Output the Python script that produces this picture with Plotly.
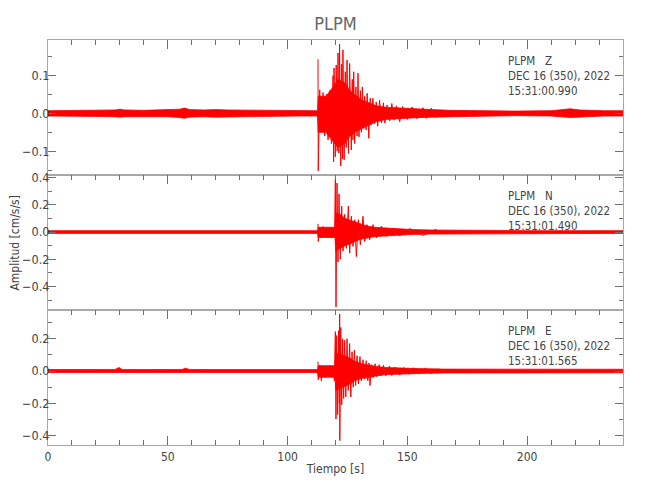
import plotly.graph_objects as go
from plotly.subplots import make_subplots

# ---------------- data ----------------
time_range = [0, 240]
channels = ["Z", "N", "E"]
start_times = ["15:31:00.990", "15:31:01.490", "15:31:01.565"]
station = "PLPM"
date_label = "DEC 16 (350), 2022"

# Z : dense core envelope (upper / lower) and individual peaks
Z_core_t = [0, 10, 20, 28, 30, 32, 40, 50, 55, 57, 59, 65, 70, 75, 85, 95, 105, 112.5, 112.8, 116,
            119, 121, 124, 126, 128, 131, 134, 137, 141, 146, 152, 160, 168, 180, 195, 210, 214, 218, 222, 226,
            232, 240]
Z_core_hi = [0.007, 0.007, 0.008, 0.009, 0.011, 0.009, 0.008, 0.009, 0.011, 0.014,
             0.010, 0.009, 0.010, 0.009, 0.008, 0.008, 0.007, 0.007, 0.045, 0.045,
             0.07, 0.09, 0.08, 0.06, 0.05, 0.035, 0.028, 0.02, 0.016, 0.014,
             0.012, 0.010, 0.008, 0.007, 0.006, 0.007, 0.009, 0.012, 0.009, 0.008,
             0.007, 0.007]
Z_core_lo = [-0.007, -0.008, -0.008, -0.009, -0.010, -0.009, -0.008, -0.009, -0.011, -0.013,
             -0.010, -0.009, -0.010, -0.009, -0.008, -0.008, -0.007, -0.007, -0.05, -0.05,
             -0.075, -0.09, -0.08, -0.06, -0.05, -0.04, -0.03, -0.022, -0.016, -0.014,
             -0.012, -0.010, -0.008, -0.007, -0.006, -0.007, -0.009, -0.011, -0.009, -0.008,
             -0.007, -0.007]
Z_peak_t = [112.7, 112.8, 113.4, 114.1, 114.8, 115.5, 116.2, 116.9, 117.6, 118.3,
            119.0, 119.2, 119.4, 119.9, 120.3, 120.7, 121.05, 121.4, 121.7, 122.2,
            122.6, 122.9, 123.1, 123.6, 124.1, 124.5, 124.8, 125.4, 125.9, 126.6,
            127.0, 127.3, 127.6, 128.0, 128.5, 129.0, 129.4, 129.8, 130.4, 130.8,
            131.2, 131.8, 132.2, 132.8, 133.2, 133.9, 134.5, 135.0, 135.6, 136.3,
            137.0, 137.6, 138.4, 139.2, 140.0, 140.6, 141.5, 142.6, 143.5, 144.5,
            145.4, 146.8, 148.0, 150.0, 152.0, 154.0, 156.5, 158.0, 160.0, 162.0]
Z_peak_v = [0.143, -0.152, 0.062, -0.05, 0.055, -0.06, 0.05, -0.07, 0.06, -0.08,
            0.10, -0.128, 0.12, -0.115, 0.128, -0.10, 0.16, -0.105, 0.183, -0.139,
            0.13, -0.12, 0.168, -0.123, 0.11, -0.09, 0.141, -0.106, 0.132, -0.097,
            0.09, -0.07, 0.11, -0.08, 0.07, -0.06, 0.106, -0.062, 0.06, -0.05,
            0.07, -0.04, 0.045, -0.044, 0.053, -0.066, 0.04, -0.03, 0.04, -0.028,
            0.03, -0.034, 0.035, -0.025, 0.028, -0.026, 0.022, -0.02, 0.026, -0.018,
            0.02, -0.022, 0.018, -0.016, 0.017, -0.014, 0.015, -0.013, 0.014, -0.012]

# N
N_core_t = [0, 20, 40, 60, 80, 100, 112.5, 112.8, 119.8, 120.1, 122, 124, 127, 130, 133, 136, 140, 145,
            152, 160, 170, 180, 200, 220, 240]
N_core_hi = [0.010, 0.010, 0.010, 0.010, 0.010, 0.010, 0.010, 0.035, 0.035, 0.14, 0.13, 0.10, 0.08, 0.06,
             0.045, 0.035, 0.03, 0.022, 0.018, 0.015, 0.013, 0.011, 0.010, 0.010, 0.010]
N_core_lo = [-0.010, -0.010, -0.010, -0.010, -0.010, -0.010, -0.010, -0.04, -0.04, -0.14, -0.12, -0.10,
             -0.08, -0.055, -0.045, -0.035, -0.03, -0.022, -0.018, -0.015, -0.013, -0.011, -0.010,
             -0.010, -0.010]
N_peak_t = [112.7, 112.8, 113.4, 114.1, 114.8, 115.5, 116.2, 116.9, 117.6, 118.3,
            119.0, 119.6, 119.94, 120.21, 120.63, 121.05, 121.47, 122.02, 122.58, 123.14,
            123.83, 124.53, 125.36, 125.92, 126.61, 127.31, 128.01, 128.70, 129.54, 130.37,
            131.48, 132.18, 133.15, 134.26, 135.66, 137.05, 139.13, 141.22, 144.0, 146.79,
            150.96, 156.52, 162.09]
N_peak_v = [0.06, -0.07, 0.035, -0.04, 0.04, -0.035, 0.03, -0.04, 0.035, -0.045,
            0.03, -0.03, 0.39, -0.55, 0.36, -0.22, 0.28, -0.2, 0.19, -0.14,
            0.13, -0.12, 0.19, -0.155, 0.116, -0.106, 0.09, -0.18, 0.09, -0.094,
            0.116, -0.07, 0.054, -0.057, 0.054, -0.044, 0.042, -0.032, 0.03, -0.027,
            0.025, -0.025, 0.02]

# E
E_core_t = [0, 10, 20, 28, 29.6, 31, 40, 50, 56, 57.4, 59, 70, 85, 100, 112.5, 112.8, 119.8, 120.1, 123,
            126, 128, 131, 134, 137, 141, 146, 155, 165, 180, 200, 220, 240]
E_core_hi = [0.009, 0.009, 0.010, 0.010, 0.022, 0.010, 0.009, 0.009, 0.010, 0.018,
             0.010, 0.009, 0.009, 0.009, 0.009, 0.033, 0.033, 0.11, 0.10, 0.08,
             0.06, 0.045, 0.035, 0.028, 0.022, 0.018, 0.015, 0.012, 0.011, 0.010,
             0.011, 0.011]
E_core_lo = [-0.009, -0.009, -0.010, -0.010, -0.012, -0.010, -0.009, -0.009, -0.010, -0.012,
             -0.010, -0.009, -0.009, -0.009, -0.009, -0.038, -0.038, -0.12, -0.10, -0.08,
             -0.06, -0.045, -0.04, -0.03, -0.022, -0.018, -0.015, -0.012, -0.011, -0.010,
             -0.011, -0.011]
E_peak_t = [112.7, 112.8, 113.4, 114.1, 114.8, 115.5, 116.2, 116.9, 117.6, 118.3,
            119.0, 119.5, 119.94, 120.2, 120.5, 120.9, 121.3, 121.6, 121.74, 121.8,
            122.2, 122.6, 123.0, 123.4, 123.8, 124.3, 124.8, 125.3, 125.9, 126.4,
            126.9, 127.4, 127.9, 128.4, 129.0, 129.6, 130.2, 130.8, 131.5, 132.2,
            132.8, 133.5, 134.0, 134.4, 135.0, 135.7, 136.5, 137.3, 138.2, 139.0,
            140.0, 141.0, 142.5, 143.5, 145.0, 146.8, 148.5, 150.5, 152.5, 155.0,
            157.5, 160.0, 163.0]
E_peak_v = [0.058, -0.054, 0.035, -0.06, 0.033, -0.04, 0.03, -0.035, 0.035, -0.04,
            0.03, -0.06, 0.244, -0.297, 0.22, -0.27, 0.25, -0.2, 0.353, -0.431,
            0.27, -0.21, 0.2, -0.17, 0.19, -0.16, 0.2, -0.12, 0.17, -0.16,
            0.12, -0.1, 0.13, -0.09, 0.095, -0.08, 0.09, -0.06, 0.07, -0.05,
            0.064, -0.06, 0.05, -0.09, 0.04, -0.04, 0.045, -0.035, 0.04, -0.03,
            0.035, -0.03, 0.03, -0.028, 0.025, -0.025, 0.022, -0.02, 0.02, -0.018,
            0.018, -0.016, 0.015]

y_ranges = [[-0.163, 0.194], [-0.573, 0.419], [-0.458, 0.378]]
y_dticks = [0.1, 0.2, 0.2]
y_minor = [0.05, 0.1, 0.1]

# ---------------- figure ----------------
FONT = "Liberation Sans Narrow, DejaVu Sans Condensed, Arial Narrow, sans-serif"
TXT = "#444444"
RED = "#ff0000"
FRAME = "#a8a8a8"
TICK = "#707070"

traces = [
    (Z_core_t, Z_core_hi, Z_core_lo, Z_peak_t, Z_peak_v),
    (N_core_t, N_core_hi, N_core_lo, N_peak_t, N_peak_v),
    (E_core_t, E_core_hi, E_core_lo, E_peak_t, E_peak_v),
]

fig = make_subplots(rows=3, cols=1, shared_xaxes=True, vertical_spacing=0)

for i, (ct, chi, clo, pt, pv) in enumerate(traces):
    r = i + 1
    fig.add_trace(go.Scatter(x=ct + ct[::-1], y=chi + clo[::-1], mode="lines", fill="toself",
                             fillcolor=RED, line=dict(color=RED, width=0.8),
                             hoverinfo="skip", showlegend=False), row=r, col=1)
    fig.add_trace(go.Scatter(x=pt, y=pv, mode="lines", line=dict(color=RED, width=1),
                             hoverinfo="skip", showlegend=False), row=r, col=1)

    xa = dict(range=time_range, showline=True, linecolor=FRAME, linewidth=1.2,
              ticks="inside", ticklen=9, tickwidth=1, tickcolor=TICK,
              tick0=0, dtick=50, automargin=False,
              minor=dict(ticks="inside", ticklen=5, dtick=10, tickcolor=TICK, tickwidth=1),
              showgrid=False, zeroline=False,
              tickfont=dict(family=FONT, size=12, color=TXT))
    if r < 3:
        xa.update(side="top", mirror=True, showticklabels=False)
    else:
        xa.update(side="bottom", mirror="ticks", showticklabels=True,
                  title=dict(text="Tiempo [s]", font=dict(family=FONT, size=12, color=TXT), standoff=2))
    fig.update_xaxes(row=r, col=1, **xa)

    fig.update_yaxes(row=r, col=1, range=y_ranges[i], showline=True, linecolor=FRAME, linewidth=1.2,
                     mirror="ticks", ticks="inside", ticklen=8, tickwidth=1, tickcolor=TICK,
                     tick0=0, dtick=y_dticks[i], tickformat=".1f", automargin=False,
                     ticklabelstandoff=-5,
                     minor=dict(ticks="inside", ticklen=4, dtick=y_minor[i], tickcolor=TICK, tickwidth=1),
                     showgrid=False, zeroline=False,
                     tickfont=dict(family=FONT, size=12.5, color=TXT))

    yref = "y domain" if r == 1 else f"y{r} domain"
    xref = "x" if r == 1 else f"x{r}"
    text = "<br>".join([f"{station}\u00a0\u00a0\u00a0{channels[i]}", date_label, start_times[i]])
    fig.add_annotation(x=191.4, y=0.905, xref=xref, yref=yref, text=text, showarrow=False,
                       xanchor="left", yanchor="top", align="left", borderpad=0,
                       font=dict(family=FONT, size=11.5, color=TXT))

fig.add_annotation(x=-0.059, y=0.5, xref="paper", yref="paper", text="Amplitud [cm/s/s]",
                   textangle=-90, showarrow=False, xanchor="center", yanchor="middle",
                   font=dict(family=FONT, size=12, color=TXT))

# the page body adds an 8 px offset, so the margins are shifted by that amount
fig.update_layout(
    width=650, height=500,
    margin=dict(l=40, r=35, t=32, b=63, autoexpand=False),
    paper_bgcolor="white", plot_bgcolor="white",
    title=dict(text=station, x=0.5, xref="paper", y=0.969, yanchor="middle",
               font=dict(family=FONT, size=18, color="#666666")),
    showlegend=False,
)

fig.write_html("out.html")
